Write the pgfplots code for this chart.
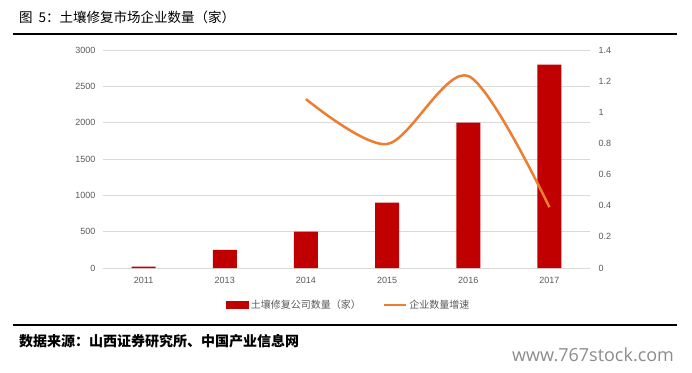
\documentclass[border=0pt]{standalone}
\usepackage{pgfplots}
\pgfplotsset{compat=1.18}
\usepackage{fontspec}
\setmainfont{Liberation Sans}
\newfontfamily\cjk{Noto Sans CJK SC}
\newfontfamily\wm{Open Sans}
\definecolor{barred}{HTML}{C00000}
\definecolor{lineor}{HTML}{ED7D31}
\definecolor{gridgray}{HTML}{D9D9D9}
\definecolor{textgray}{HTML}{595959}
\definecolor{wmgray}{HTML}{8C8C8C}
\begin{document}
\begin{tikzpicture}[x=1pt,y=1pt]
\path[use as bounding box] (0,0) rectangle (692,372);
\draw[line width=1.2pt] (13,338) -- (677,338);
\draw[line width=1.2pt] (13,47) -- (677,47);
\node[anchor=west, inner sep=0pt] at (19,355) {\cjk\fontsize{13.5}{15}\selectfont 图\hspace{6pt}5：土壤修复市场企业数量（家）};
\node[anchor=west, inner sep=0pt] at (19,31) {\cjk\bfseries\fontsize{14}{16}\selectfont 数据来源：山西证券研究所、中国产业信息网};
\node[anchor=west, inner sep=0pt, text=wmgray] at (512,17) {\wm\fontsize{18}{20}\selectfont www.767stock.com};
\begin{axis}[
  at={(103pt,104pt)}, anchor=south west, scale only axis,
  width=487pt, height=218pt,
  ybar, bar width=24pt,
  xmin=-0.5, xmax=5.5, ymin=0, ymax=3000,
  xtick={0,1,2,3,4,5}, xticklabels={2011,2013,2014,2015,2016,2017},
  ytick={0,500,1000,1500,2000,2500,3000},
  ymajorgrids, grid style={gridgray, line width=0.8pt},
  axis line style={draw=none}, major tick length=0pt,
  tick label style={font=\fontsize{9}{10}\selectfont, text=textgray},
  yticklabel style={xshift=-4pt},
  xticklabel style={yshift=-6pt},
  /pgf/number format/assume math mode=true,
  /pgf/number format/1000 sep={},
]
\addplot[fill=barred, draw=none] coordinates {(0,20) (1,250) (2,500) (3,900) (4,2000) (5,2800)};
\end{axis}
\begin{axis}[
  at={(103pt,104pt)}, anchor=south west, scale only axis,
  width=487pt, height=218pt,
  xmin=-0.5, xmax=5.5, ymin=0, ymax=1.4,
  axis y line*=right, axis x line=none,
  ytick={0,0.2,0.4,0.6,0.8,1,1.2,1.4},
  axis line style={draw=none}, major tick length=0pt,
  tick label style={font=\fontsize{9}{10}\selectfont, text=textgray},
  yticklabel style={xshift=5pt},
  /pgf/number format/assume math mode=true,
  legend style={at={(0.505,-0.17)}, anchor=center, draw=none, fill=none,
    legend columns=2, font=\cjk\fontsize{10}{12}\selectfont, text=textgray,
    legend cell align=left,
    /tikz/every even column/.append style={column sep=20pt}},
  legend image code/.code={\draw[#1] (0pt,0pt) -- (22pt,0pt);},
]
\addlegendimage{legend image code/.code={\fill[barred] (0pt,-3.5pt) rectangle (22pt,3.5pt);}}
\addlegendentry{土壤修复公司数量（家）}
\addplot[lineor, line width=2.5pt, smooth] coordinates {(2,1.085) (3,0.796) (4,1.233) (5,0.39)};
\addlegendentry{企业数量增速}
\end{axis}
\end{tikzpicture}
\end{document}
